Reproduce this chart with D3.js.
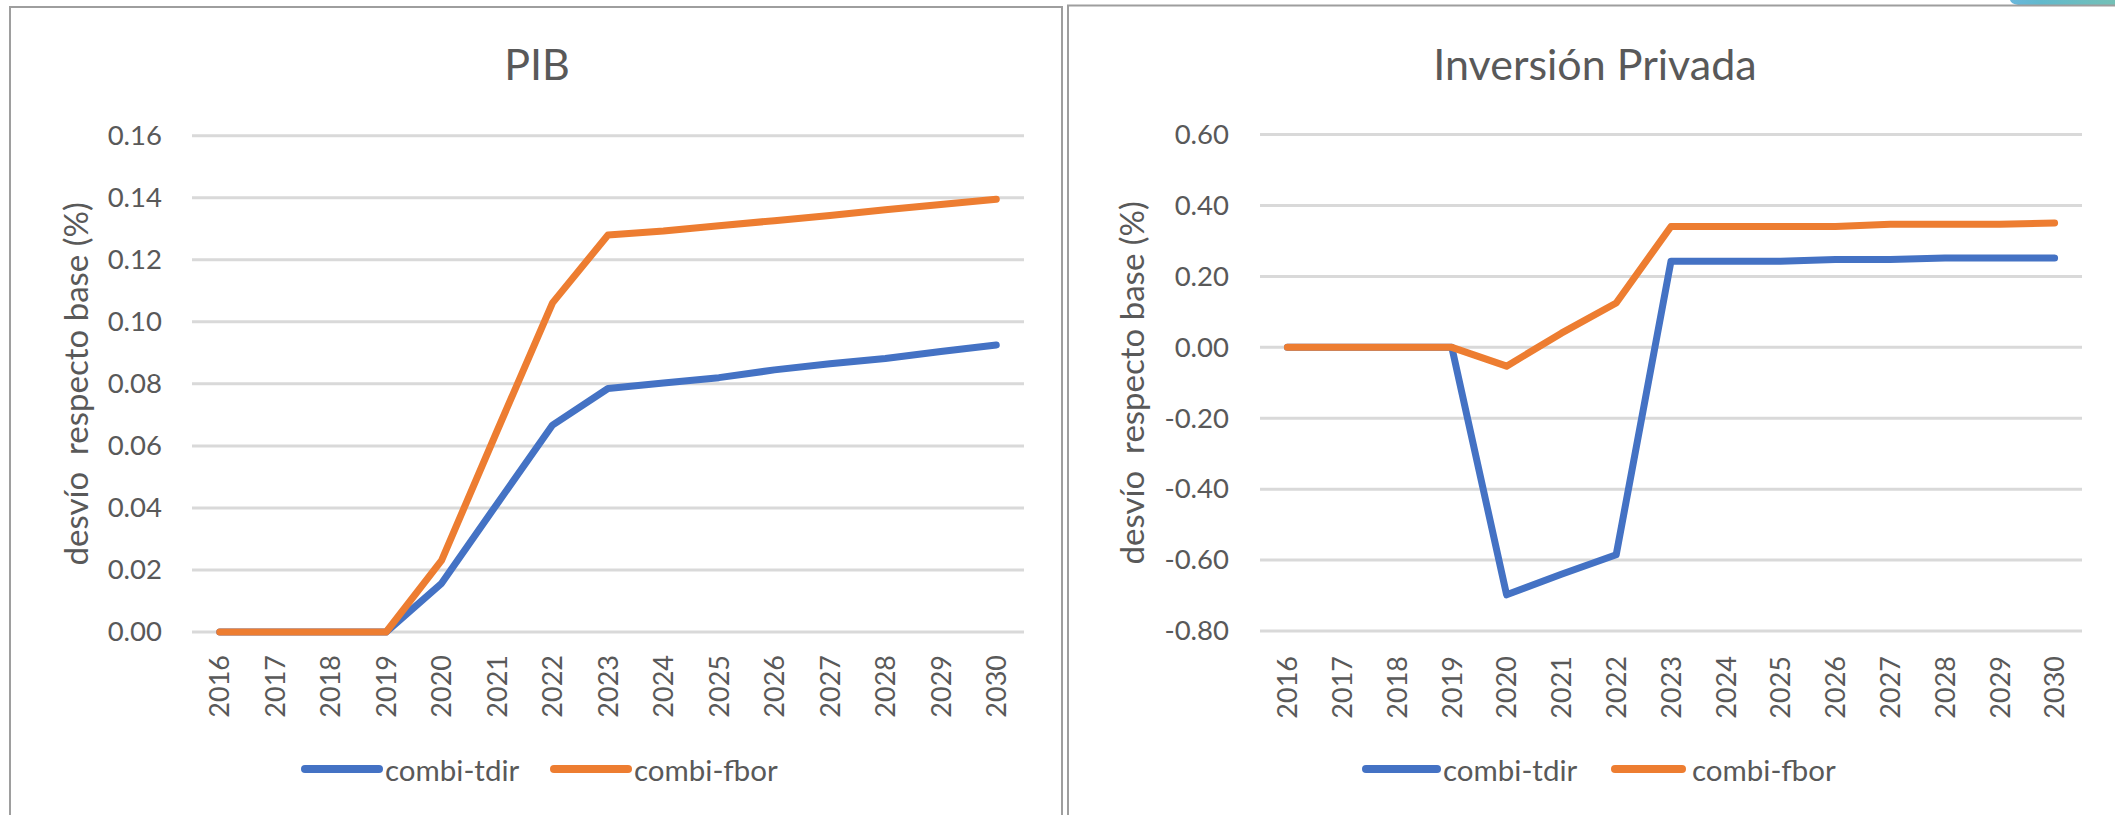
<!DOCTYPE html>
<html>
<head>
<meta charset="utf-8">
<script src="https://cdn.jsdelivr.net/npm/d3@7"></script>
<style>
  html, body { margin: 0; padding: 0; background: #fff; overflow: hidden; }
  svg { display: block; font-family: Lato, "Open Sans", "Liberation Sans", sans-serif; }
</style>
</head>
<body>
<svg id="chart" width="2115" height="815"></svg>
<script>
// Years on the horizontal axis
const years = ["2016","2017","2018","2019","2020","2021","2022","2023","2024","2025","2026","2027","2028","2029","2030"];

// Series names (legend)
const seriesNames = ["combi-tdir", "combi-fbor"];
const seriesColors = ["#4472C4", "#ED7D31"];

// PIB: deviation from baseline (%)
const pibTdir = [0, 0, 0, 0, 0.0157, 0.0413, 0.0667, 0.0785, 0.0803, 0.0820, 0.0845, 0.0865, 0.0882, 0.0904, 0.0925];
const pibFbor = [0, 0, 0, 0, 0.0231, 0.0648, 0.1061, 0.1280, 0.1293, 0.1310, 0.1326, 0.1343, 0.1361, 0.1378, 0.1395];
const pibTicks = [0, 0.02, 0.04, 0.06, 0.08, 0.10, 0.12, 0.14, 0.16];

// Inversión privada: deviation from baseline (%)
const invTdir = [0, 0, 0, 0, -0.698, -0.640, -0.585, 0.243, 0.243, 0.243, 0.248, 0.248, 0.252, 0.252, 0.252];
const invFbor = [0, 0, 0, 0, -0.053, 0.040, 0.125, 0.341, 0.341, 0.341, 0.341, 0.347, 0.347, 0.347, 0.351];
const invTicks = [-0.8, -0.6, -0.4, -0.2, 0, 0.2, 0.4, 0.6];

const yTitle = "desvío  respecto base (%)";

const svg = d3.select("#chart");
const textColor = "#595959";

// Small accent shape in the top-right corner
const defs = svg.append("defs");
const grad = defs.append("linearGradient").attr("id", "accent").attr("x1", "0").attr("x2", "1");
grad.append("stop").attr("offset", "0").attr("stop-color", "#6AB7DC");
grad.append("stop").attr("offset", "0.3").attr("stop-color", "#62B9CC");
grad.append("stop").attr("offset", "1").attr("stop-color", "#74C0B6");
svg.append("path")
  .attr("d", "M2010,0 L2115,0 L2115,5 L2018,5 Q2011,4 2010,0 Z")
  .attr("fill", "url(#accent)");

// Tick labels with a plain hyphen for negatives
const fmt = d => (Math.abs(d) < 1e-9 ? 0 : d).toFixed(2);

function drawPanel(p) {
  const g = svg.append("g");

  // Panel frame (open at the bottom / right edges of the page)
  g.append("rect")
    .attr("x", p.frame.x).attr("y", p.frame.y)
    .attr("width", p.frame.w).attr("height", 900)
    .attr("fill", "none").attr("stroke", "#9E9E9E").attr("stroke-width", 2);

  const x = d3.scaleBand().domain(years).range([p.left, p.right]);
  const y = d3.scaleLinear().domain(p.domain).range([p.bottom, p.top]);

  // Gridlines
  g.append("g").selectAll("line").data(p.ticks).join("line")
    .attr("x1", p.left).attr("x2", p.right)
    .attr("y1", d => y(d)).attr("y2", d => y(d))
    .attr("stroke", "#D9D9D9").attr("stroke-width", 3);

  // Y axis labels
  const yAxis = d3.axisLeft(y).tickValues(p.ticks).tickFormat(fmt).tickSize(0).tickPadding(0);
  const ya = g.append("g").attr("transform", `translate(${p.labelRight},0)`).call(yAxis);
  ya.select(".domain").remove();
  ya.selectAll("text")
    .attr("fill", textColor).attr("font-size", 27.5)
    .attr("font-family", "Lato, sans-serif");

  // X axis labels, rotated
  const xAxis = d3.axisBottom(x).tickSize(0).tickPadding(0);
  const xa = g.append("g").attr("transform", `translate(0,${p.xLabelTop})`).call(xAxis);
  xa.select(".domain").remove();
  xa.selectAll("text")
    .attr("fill", textColor).attr("font-size", 27)
    .attr("font-family", "Lato, sans-serif")
    .attr("transform", "rotate(-90)")
    .attr("text-anchor", "end")
    .attr("x", 0).attr("y", 0).attr("dy", "0.36em");

  // Series lines
  const line = d3.line()
    .x((d, i) => x(years[i]) + x.bandwidth() / 2)
    .y(d => y(d));
  p.series.forEach((vals, k) => {
    g.append("path")
      .datum(vals)
      .attr("d", line)
      .attr("fill", "none")
      .attr("stroke", seriesColors[k])
      .attr("stroke-width", 7)
      .attr("stroke-linejoin", "round")
      .attr("stroke-linecap", "round");
  });

  // Title
  g.append("text")
    .attr("x", p.titleX).attr("y", 80)
    .attr("text-anchor", "middle")
    .attr("fill", textColor).attr("font-size", 43)
    .text(p.title);

  // Y axis title
  g.append("text")
    .attr("transform", `translate(${p.yTitleX},${(p.top + p.bottom) / 2}) rotate(-90)`)
    .attr("text-anchor", "middle")
    .attr("fill", textColor).attr("font-size", 33)
    .style("white-space", "pre")
    .text(yTitle);

  // Legend
  const lg = g.append("g");
  seriesNames.forEach((name, k) => {
    const it = p.legend[k];
    lg.append("line")
      .attr("x1", it.x1).attr("x2", it.x2)
      .attr("y1", 769).attr("y2", 769)
      .attr("stroke", seriesColors[k]).attr("stroke-width", 8)
      .attr("stroke-linecap", "round");
    lg.append("text")
      .attr("x", it.tx).attr("y", 781)
      .attr("fill", textColor).attr("font-size", 29.5)
      .text(name);
  });
}

drawPanel({
  title: "PIB",
  titleX: 537,
  frame: { x: 10, y: 7, w: 1052 },
  left: 192, right: 1024, top: 135.7, bottom: 632,
  domain: [0, 0.16], ticks: pibTicks,
  labelRight: 162, xLabelTop: 655, yTitleX: 88,
  series: [pibTdir, pibFbor],
  legend: [{ x1: 305, x2: 379, tx: 385 }, { x1: 554, x2: 628, tx: 634 }]
});

drawPanel({
  title: "Inversión Privada",
  titleX: 1595,
  frame: { x: 1068, y: 5.5, w: 1200 },
  left: 1260, right: 2082, top: 134.6, bottom: 631,
  domain: [-0.8, 0.6], ticks: invTicks,
  labelRight: 1229, xLabelTop: 656, yTitleX: 1144,
  series: [invTdir, invFbor],
  legend: [{ x1: 1366, x2: 1437, tx: 1443 }, { x1: 1615, x2: 1682, tx: 1692 }]
});
</script>
</body>
</html>
